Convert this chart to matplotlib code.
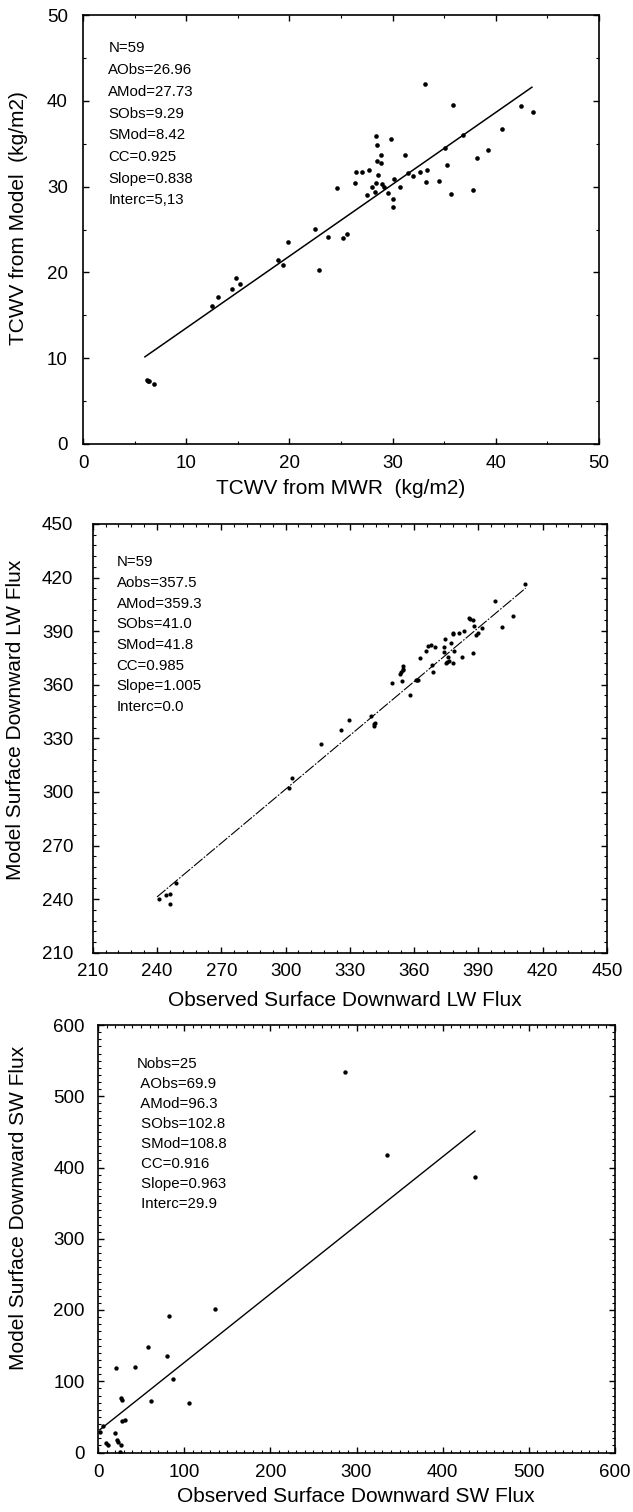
import matplotlib
matplotlib.use("Agg")
import matplotlib.pyplot as plt
from matplotlib.ticker import MultipleLocator

plt.rcParams['font.family'] = ['Liberation Sans', 'DejaVu Sans']

W, H = 633, 1512

# ---- TCWV: MWR observations vs model ----
tcwv_obs = [33.1, 35.9, 36.8, 39.2, 38.2, 35.1, 35.3, 37.8, 35.7, 34.5, 33.2, 33.3,
            32.7, 32.0, 31.5, 31.2, 29.8, 28.4, 28.5, 28.9, 28.9, 28.6, 27.7, 27.0,
            26.5, 26.4, 28.0, 28.4, 28.3, 27.5, 29.2, 29.6, 30.1, 30.7, 30.0, 30.0,
            24.6, 22.5, 23.7, 25.2, 25.6, 19.9, 22.9, 18.9, 19.4, 14.8, 15.2, 14.4,
            12.5, 13.1, 6.2, 6.3, 6.9, 42.4, 43.6, 40.6, 28.5, 29.0, 6.4]
tcwv_mod = [41.96, 39.5, 36.0, 34.3, 33.3, 34.5, 32.5, 29.6, 29.1, 30.7, 30.5, 31.9,
            31.7, 31.2, 31.6, 33.7, 35.5, 35.9, 34.8, 33.7, 32.8, 31.3, 31.9, 31.7,
            31.7, 30.4, 30.0, 30.4, 29.4, 29.0, 30.0, 29.2, 30.9, 30.0, 28.5, 27.6,
            29.8, 25.1, 24.1, 24.0, 24.5, 23.5, 20.3, 21.4, 20.9, 19.3, 18.7, 18.1,
            16.1, 17.1, 7.5, 7.3, 7.0, 39.4, 38.7, 36.7, 33.0, 30.3, 7.4]
tcwv_stats = ["N=59", "AObs=26.96", "AMod=27.73", "SObs=9.29", "SMod=8.42",
              "CC=0.925", "Slope=0.838", "Interc=5,13"]
tcwv_slope, tcwv_interc = 0.838, 5.13
tcwv_fit_range = [6.0, 43.5]

# ---- Surface downward LW flux ----
lw_obs = [240.8, 244.0, 246.2, 245.9, 249.0, 301.4, 302.8, 316.6, 325.9, 329.4,
          339.9, 341.3, 341.6, 349.9, 354.5, 353.5, 353.9, 355.0, 355.0, 357.9,
          360.8, 361.7, 362.9, 365.7, 366.4, 368.1, 369.8, 368.4, 368.6, 373.8,
          374.5, 373.8, 374.9, 375.7, 376.3, 377.4, 378.6, 378.3, 378.3, 380.8,
          382.3, 383.4, 385.4, 387.3, 387.3, 387.9, 389.0, 390.0, 391.9, 397.9,
          411.9, 406.2, 401.1, 375.2, 354.8, 378.0, 386.0, 341.4, 361.2]
lw_mod = [239.8, 242.4, 242.8, 237.0, 249.1, 302.3, 307.7, 327.0, 334.7, 340.5,
          342.5, 337.1, 338.4, 361.0, 362.1, 365.8, 367.3, 369.0, 370.7, 354.2,
          362.8, 362.6, 375.1, 378.9, 381.9, 382.3, 381.1, 371.0, 367.1, 381.3,
          385.8, 378.5, 372.2, 375.7, 373.3, 383.2, 378.9, 372.4, 388.8, 388.8,
          375.7, 390.1, 397.2, 396.5, 377.8, 393.0, 387.8, 389.0, 391.5, 406.8,
          416.4, 398.3, 392.3, 373.0, 368.0, 388.5, 396.8, 337.8, 362.7]
lw_stats = ["N=59", "Aobs=357.5", "AMod=359.3", "SObs=41.0", "SMod=41.8",
            "CC=0.985", "Slope=1.005", "Interc=0.0"]
lw_slope, lw_interc = 1.005, 0.0
lw_fit_range = [240.0, 412.0]

# ---- Surface downward SW flux ----
sw_obs = [135.9, 82.9, 58.1, 80.6, 20.6, 42.7, 86.8, 27.2, 27.5, 61.3, 105.7, 28.0,
          31.9, 5.9, 2.1, 19.5, 22.2, 23.3, 9.0, 11.7, 26.4, 26.0, 335.5, 437.5, 286.3]
sw_mod = [201.8, 192.0, 147.9, 135.3, 118.0, 119.8, 103.0, 75.8, 73.4, 72.6, 69.8,
          44.0, 46.3, 37.0, 29.0, 27.7, 17.3, 15.0, 13.6, 11.2, 11.2, 0.5, 418.0,
          386.7, 534.7]
sw_stats = ["Nobs=25", " AObs=69.9", " AMod=96.3", " SObs=102.8", " SMod=108.8",
            " CC=0.916", " Slope=0.963", " Interc=29.9"]
sw_slope, sw_interc = 0.963, 29.9
sw_fit_range = [2.0, 437.5]

fig = plt.figure(figsize=(W / 100, H / 100), dpi=100)
fig.patch.set_facecolor('white')


def px_axes(left, top, right, bottom):
    return fig.add_axes([left / W, 1 - bottom / H, (right - left) / W, (bottom - top) / H])


def style_axes(ax, lim, major, minor, xpad, ypad):
    ax.set_xlim(*lim)
    ax.set_ylim(*lim)
    for a in (ax.xaxis, ax.yaxis):
        a.set_major_locator(MultipleLocator(major))
        a.set_minor_locator(MultipleLocator(minor))
    ax.tick_params(which='both', direction='in', top=True, right=True, colors='black',
                   labelsize=13.5)
    ax.tick_params(which='major', length=4, width=1.0)
    ax.tick_params(which='minor', length=2.2, width=0.8)
    ax.tick_params(axis='x', pad=xpad)
    ax.tick_params(axis='y', pad=ypad)
    for s in ax.spines.values():
        s.set_linewidth(1.2)
        s.set_color('black')


def stats_block(ax, lines, x, y0, dy, size=10.8):
    for i, t in enumerate(lines):
        ax.text(x, y0 - i * dy, t, transform=ax.transAxes, fontsize=size,
                ha='left', va='center', color='black')


def label(x, y, text, rot=0, size=15):
    fig.text(x / W, 1 - y / H, text, ha='center', va='center', rotation=rot,
             fontsize=size, color='black')


# Panel 1
ax1 = px_axes(83, 15, 599, 444)
style_axes(ax1, (0, 50), 10, 5, 8, 11)
ax1.scatter(tcwv_obs, tcwv_mod, s=11, color='black', linewidths=0, zorder=3)
ax1.plot(tcwv_fit_range, [tcwv_slope * v + tcwv_interc for v in tcwv_fit_range],
         color='black', lw=1.1)
stats_block(ax1, tcwv_stats, 0.049, 0.922, 0.0506)
label(341, 488, "TCWV from MWR  (kg/m2)")
label(19, 218, "TCWV from Model  (kg/m2)", rot=90)

# Panel 2
ax2 = px_axes(92.7, 524, 607, 952.7)
style_axes(ax2, (210, 450), 30, 6, 7.5, 14)
ax2.scatter(lw_obs, lw_mod, s=9, color='black', linewidths=0, zorder=3)
ax2.plot(lw_fit_range, [lw_slope * v + lw_interc for v in lw_fit_range],
         color='black', lw=0.8, linestyle=(0, (10, 1.5, 1.5, 1.5)))
stats_block(ax2, lw_stats, 0.0467, 0.911, 0.0483)
label(345, 1000, "Observed Surface Downward LW Flux")
label(16, 720, "Model Surface Downward LW Flux", rot=90)

# Panel 3
ax3 = px_axes(98, 1025, 615, 1452.5)
style_axes(ax3, (0, 600), 100, 10, 8, 9.5)
ax3.scatter(sw_obs, sw_mod, s=10, color='black', linewidths=0, zorder=3)
ax3.plot(sw_fit_range, [sw_slope * v + sw_interc for v in sw_fit_range],
         color='black', lw=1.0)
stats_block(ax3, sw_stats, 0.0749, 0.909, 0.0468)
label(356, 1496, "Observed Surface Downward SW Flux")
label(19, 1208, "Model Surface Downward SW Flux", rot=90)

fig.savefig("out.png", dpi=100, facecolor='white')
